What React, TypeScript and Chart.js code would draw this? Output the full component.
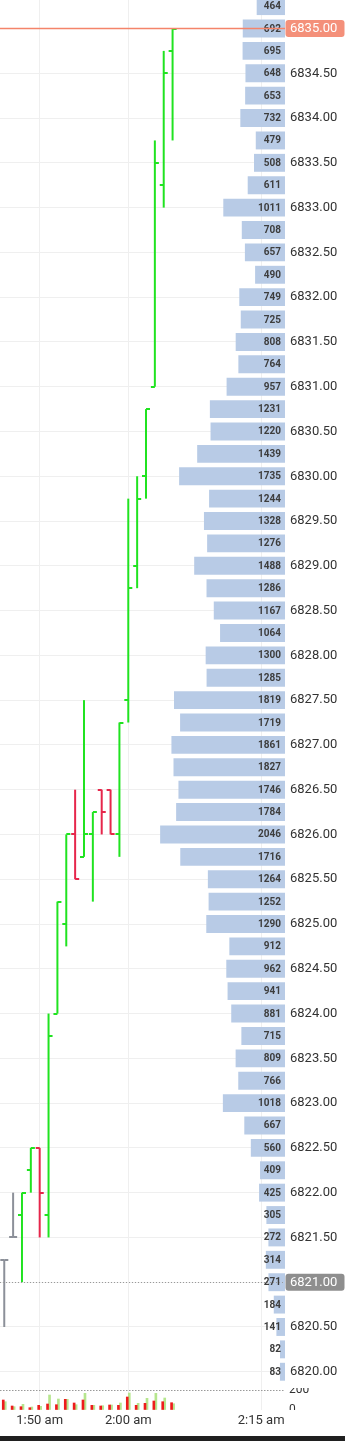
import { useEffect, useRef } from 'react';
import { Chart, registerables } from 'chart.js';

Chart.register(...registerables);
Chart.defaults.font.family = 'Roboto';

// ---- Data ----
const times = ['1:46', '1:47', '1:48', '1:49', '1:50', '1:51', '1:52', '1:53', '1:54', '1:55',
  '1:56', '1:57', '1:58', '1:59', '2:00', '2:01', '2:02', '2:03', '2:04', '2:05'];
const opens = [6821.25, 6821.5, 6821.75, 6822.25, 6822.5, 6821.75, 6824.0, 6825.0, 6826.0, 6825.75,
  6826.0, 6826.5, 6826.5, 6826.0, 6827.5, 6829.0, 6830.0, 6831.0, 6833.25, 6834.75];
const highs = [6821.25, 6822.0, 6822.0, 6822.5, 6822.5, 6824.0, 6825.25, 6826.0, 6826.5, 6827.5,
  6826.25, 6826.5, 6826.5, 6827.25, 6829.75, 6830.0, 6830.75, 6833.75, 6834.75, 6835.0];
const lows = [6820.5, 6821.5, 6821.0, 6822.0, 6821.5, 6821.5, 6824.0, 6824.75, 6825.5, 6825.75,
  6825.25, 6826.0, 6826.0, 6825.75, 6827.25, 6828.75, 6829.75, 6831.0, 6833.0, 6833.75];
const closes = [6821.25, 6821.5, 6822.0, 6822.5, 6822.0, 6823.75, 6825.25, 6826.0, 6825.5, 6826.0,
  6826.25, 6826.25, 6826.0, 6827.25, 6828.75, 6829.75, 6830.75, 6833.5, 6834.5, 6835.0];

const sellVolumes = [100, 40, 33, 23, 47, 60, 53, 107, 70, 100, 47, 40, 50, 47, 130, 47, 67, 90, 83, 73];
const buyVolumes = [83, 33, 57, 30, 37, 150, 110, 107, 53, 167, 47, 43, 50, 70, 170, 67, 117, 167, 120, 63];

const profilePrices = [6835.25, 6835.0, 6834.75, 6834.5, 6834.25, 6834.0, 6833.75, 6833.5, 6833.25, 6833.0,
  6832.75, 6832.5, 6832.25, 6832.0, 6831.75, 6831.5, 6831.25, 6831.0, 6830.75, 6830.5,
  6830.25, 6830.0, 6829.75, 6829.5, 6829.25, 6829.0, 6828.75, 6828.5, 6828.25, 6828.0,
  6827.75, 6827.5, 6827.25, 6827.0, 6826.75, 6826.5, 6826.25, 6826.0, 6825.75, 6825.5,
  6825.25, 6825.0, 6824.75, 6824.5, 6824.25, 6824.0, 6823.75, 6823.5, 6823.25, 6823.0,
  6822.75, 6822.5, 6822.25, 6822.0, 6821.75, 6821.5, 6821.25, 6821.0, 6820.75, 6820.5,
  6820.25, 6820.0];
const profileVolumes = [464, 692, 695, 648, 653, 732, 479, 508, 611, 1011,
  708, 657, 490, 749, 725, 808, 764, 957, 1231, 1220,
  1439, 1735, 1244, 1328, 1276, 1488, 1286, 1167, 1064, 1300,
  1285, 1819, 1719, 1861, 1827, 1746, 1784, 2046, 1716, 1264,
  1252, 1290, 912, 962, 941, 881, 715, 809, 766, 1018,
  667, 560, 409, 425, 305, 272, 314, 271, 184, 141,
  82, 83];

const timeTicks = ['1:50', '2:00', '2:15'];
const volumeTicks = [0, 200];
const lastPrice = 6835.0;
const markerPrice = 6821.0;

// ---- Styling ----
const GREEN = '#20e320';
const RED = '#e6264b';
const GRAY = '#8c9099';
const GRID = '#efefef';
const SALMON = '#f4846a';
const X_MIN = 105.52;
const X_MAX = 137.69;
const Y_MIN = 6819.8186;
const Y_MAX = 6835.3183;
const PROFILE_MAX = 4670;

const toMin = (t: string) => {
  const [h, m] = t.split(':').map(Number);
  return h * 60 + m;
};
const fmtTime = (v: number) => {
  const h = Math.floor(v / 60);
  const m = Math.round(v - h * 60);
  return `${h}:${m < 10 ? '0' + m : m} am`;
};
const candleColor = (i: number) =>
  closes[i] > opens[i] ? GREEN : closes[i] < opens[i] ? RED : GRAY;

function tickImage(color: string, side: 'left' | 'right') {
  const c = document.createElement('canvas');
  c.width = 10;
  c.height = 2;
  const g = c.getContext('2d')!;
  g.fillStyle = color;
  if (side === 'left') g.fillRect(1, 0, 4, 2);
  else g.fillRect(5, 0, 4, 2);
  return c;
}

const xTickBuilder = (s: any) => {
  s.ticks = timeTicks.map((t) => ({ value: toMin(t) }));
};

const hiddenTimeAxis = {
  type: 'linear',
  min: X_MIN,
  max: X_MAX,
  offset: false,
  afterBuildTicks: xTickBuilder,
  ticks: { display: false, autoSkip: false },
  grid: { color: GRID, drawTicks: false, offset: false },
  border: { display: false },
  afterFit: (s: any) => {
    s.height = 0;
    s.paddingLeft = 0;
    s.paddingRight = 0;
  },
};

const baseOptions = {
  responsive: false,
  animation: false,
  events: [],
  plugins: { legend: { display: false }, tooltip: { enabled: false } },
};

export default function App() {
  const mainRef = useRef<HTMLCanvasElement>(null);
  const volRef = useRef<HTMLCanvasElement>(null);
  const timeRef = useRef<HTMLCanvasElement>(null);

  useEffect(() => {
    const imgs: Record<string, HTMLCanvasElement> = {};
    [GREEN, RED, GRAY].forEach((c) => {
      imgs[c + 'L'] = tickImage(c, 'left');
      imgs[c + 'R'] = tickImage(c, 'right');
    });
    const colors = times.map((_, i) => candleColor(i));

    const overlay = {
      id: 'overlay',
      beforeDraw(chart: any) {
        const { ctx } = chart;
        ctx.save();
        ctx.fillStyle = '#ffffff';
        ctx.fillRect(0, 0, chart.width, chart.height);
        ctx.restore();
      },
      afterDatasetsDraw(chart: any) {
        const { ctx, chartArea } = chart;
        const meta = chart.getDatasetMeta(3);
        ctx.save();
        ctx.font = 'bold 10px Roboto';
        ctx.fillStyle = '#3d3d3d';
        ctx.textAlign = 'right';
        ctx.textBaseline = 'middle';
        meta.data.forEach((el: any, i: number) => {
          const p = el.getProps(['y', 'base'], true);
          ctx.fillText(String(profileVolumes[i]), p.base - 4, p.y + 0.5);
        });
        const yS = chart.scales.y;
        const yl = yS.getPixelForValue(lastPrice);
        ctx.fillStyle = SALMON;
        ctx.fillRect(chartArea.left, yl - 0.75, chartArea.right - chartArea.left, 1.5);
        const ym = Math.round(yS.getPixelForValue(markerPrice)) + 0.5;
        ctx.strokeStyle = '#999999';
        ctx.lineWidth = 1;
        ctx.setLineDash([1, 2]);
        ctx.beginPath();
        ctx.moveTo(chartArea.left, ym);
        ctx.lineTo(chartArea.right, ym);
        ctx.stroke();
        ctx.restore();
      },
      afterDraw(chart: any) {
        const { ctx, chartArea } = chart;
        const yS = chart.scales.y;
        const boxes = [
          { v: lastPrice, c: '#f4907a' },
          { v: markerPrice, c: '#8e8e8e' },
        ];
        ctx.save();
        boxes.forEach((b) => {
          const y = yS.getPixelForValue(b.v);
          ctx.fillStyle = b.c;
          ctx.beginPath();
          ctx.roundRect(chartArea.right + 0.5, y - 8.5, 59, 17, 3);
          ctx.fill();
          ctx.fillStyle = '#ffffff';
          ctx.font = '13px Roboto';
          ctx.textAlign = 'left';
          ctx.textBaseline = 'middle';
          ctx.fillText(b.v.toFixed(2), chartArea.right + 5, y + 0.5);
        });
        ctx.restore();
      },
    };

    const main = new Chart(mainRef.current!, {
      type: 'bar',
      data: {
        datasets: [
          {
            type: 'scatter',
            data: times.map((t, i) => ({ x: toMin(t), y: opens[i] })),
            pointStyle: colors.map((c) => imgs[c + 'L']),
            pointRadius: 3,
            xAxisID: 'x',
            yAxisID: 'y',
            order: 1,
          } as any,
          {
            type: 'scatter',
            data: times.map((t, i) => ({ x: toMin(t), y: closes[i] })),
            pointStyle: colors.map((c) => imgs[c + 'R']),
            pointRadius: 3,
            xAxisID: 'x',
            yAxisID: 'y',
            order: 1,
          } as any,
          {
            type: 'bar',
            data: times.map((t, i) => ({ x: toMin(t), y: [lows[i], highs[i]] })),
            backgroundColor: colors,
            maxBarThickness: 2,
            grouped: false,
            xAxisID: 'x',
            yAxisID: 'y',
            order: 2,
          } as any,
          {
            type: 'bar',
            indexAxis: 'y',
            data: profilePrices.map((p, i) => ({ x: profileVolumes[i], y: p })),
            backgroundColor: '#b8cbe6',
            barPercentage: 0.8,
            categoryPercentage: 1,
            grouped: false,
            xAxisID: 'xProfile',
            yAxisID: 'y',
            order: 3,
          } as any,
        ],
      },
      options: {
        ...baseOptions,
        layout: { autoPadding: false, padding: 0 },
        scales: {
          x: hiddenTimeAxis,
          xProfile: {
            type: 'linear',
            axis: 'x',
            display: false,
            offset: false,
            reverse: true,
            min: 0,
            max: PROFILE_MAX,
          },
          y: {
            type: 'linear',
            position: 'right',
            offset: false,
            beginAtZero: false,
            min: Y_MIN,
            max: Y_MAX,
            ticks: {
              stepSize: 0.5,
              includeBounds: false,
              autoSkip: false,
              padding: 5,
              color: '#333333',
              font: { family: 'Roboto', size: 13 },
              callback: (v: any) =>
                v === lastPrice || v === markerPrice ? '' : Number(v).toFixed(2),
            },
            grid: { color: GRID, drawTicks: false, offset: false },
            border: { display: false },
            afterFit: (s: any) => {
              s.width = 60;
              s.paddingTop = 0;
              s.paddingBottom = 0;
            },
          },
        } as any,
      } as any,
      plugins: [overlay],
    });

    const vol = new Chart(volRef.current!, {
      type: 'bar',
      data: {
        datasets: [
          {
            data: times.map((t, i) => ({ x: toMin(t), y: sellVolumes[i] })),
            backgroundColor: '#ee1c1c',
            barThickness: 2,
          },
          {
            data: times.map((t, i) => ({ x: toMin(t), y: buyVolumes[i] })),
            backgroundColor: '#b6e68e',
            barThickness: 2,
          },
        ] as any,
      },
      options: {
        ...baseOptions,
        layout: { autoPadding: false, padding: 0 },
        scales: {
          x: hiddenTimeAxis,
          y: {
            type: 'linear',
            position: 'right',
            offset: false,
            min: 0,
            max: 300,
            afterBuildTicks: (s: any) => {
              s.ticks = volumeTicks.map((v) => ({ value: v }));
            },
            ticks: {
              autoSkip: false,
              padding: 4,
              color: '#333333',
              font: { family: 'Roboto', size: 12 },
            },
            grid: {
              drawTicks: false,
              offset: false,
              lineWidth: 1,
              color: (ctx: any) =>
                ctx.tick && ctx.tick.value === 200 ? '#999999' : 'rgba(0,0,0,0)',
            },
            border: { display: false, dash: [1.5, 1.5] },
            afterFit: (s: any) => {
              s.width = 60;
              s.paddingTop = 0;
              s.paddingBottom = 0;
            },
          },
        } as any,
      } as any,
    });

    const timeAxis = new Chart(timeRef.current!, {
      type: 'bar',
      data: { datasets: [] },
      options: {
        ...baseOptions,
        layout: { autoPadding: false, padding: { right: 60, bottom: 12 } },
        scales: {
          x: {
            type: 'linear',
            min: X_MIN,
            max: X_MAX,
            offset: false,
            afterBuildTicks: xTickBuilder,
            ticks: {
              padding: 0,
              color: '#333333',
              font: { family: 'Roboto', size: 13 },
              maxRotation: 0,
              autoSkip: false,
              callback: (v: any) => fmtTime(Number(v)),
            },
            grid: { display: false, offset: false },
            border: { display: false },
            afterFit: (s: any) => {
              s.paddingLeft = 0;
              s.paddingRight = 0;
            },
          },
          y: { display: false, offset: false },
        } as any,
      } as any,
    });

    return () => {
      main.destroy();
      vol.destroy();
      timeAxis.destroy();
    };
  }, []);

  return (
    <div
      style={{
        position: 'absolute',
        left: 0,
        top: 0,
        width: 345,
        height: 1441,
        background: '#ffffff',
        overflow: 'hidden',
      }}
    >
      <canvas ref={timeRef} width={345} height={50} style={{ position: 'absolute', left: 0, top: 1386, zIndex: 0 }} />
      <canvas ref={volRef} width={345} height={30} style={{ position: 'absolute', left: 0, top: 1380, zIndex: 1 }} />
      <canvas ref={mainRef} width={345} height={1388} style={{ position: 'absolute', left: 0, top: 0, zIndex: 2 }} />
      <div style={{ position: 'absolute', left: 0, top: 1436, width: 345, height: 5, background: '#202020' }} />
    </div>
  );
}
